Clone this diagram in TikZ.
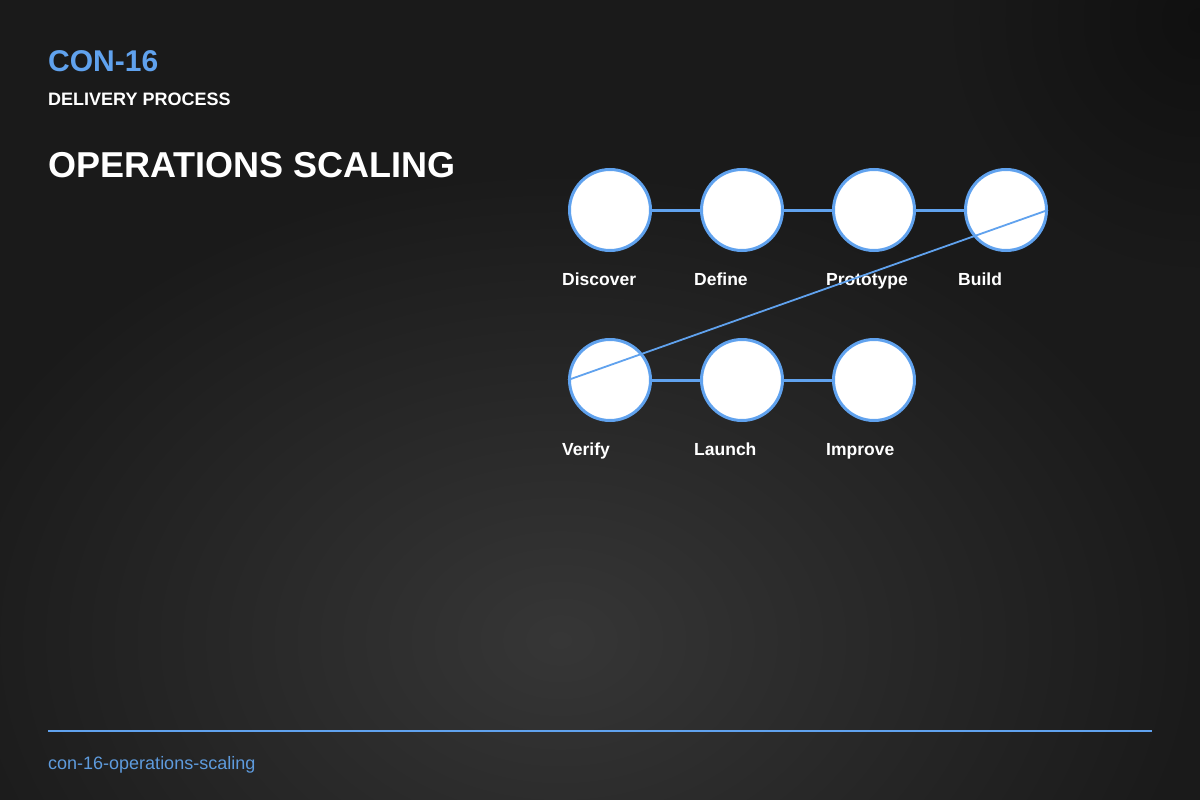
\documentclass[tikz,border=0pt]{standalone}
\usepackage{fontspec}
\setmainfont{Liberation Sans}
\definecolor{bg}{HTML}{1A1A1A}
\definecolor{glow}{HTML}{363636}
\definecolor{deep}{HTML}{101010}
\definecolor{accent}{HTML}{60A2EE}
\definecolor{foot}{HTML}{5E9BDD}
\begin{document}
\begin{tikzpicture}[x=1pt,y=-1pt,
  stepnode/.style={circle,fill=white,draw=accent,line width=3pt,minimum size=81pt,inner sep=0pt},
  steplabel/.style={anchor=base west,inner sep=0pt,text=white,font=\fontsize{17.5}{20}\selectfont\bfseries},
  link/.style={draw=accent,line width=3pt},
  jump/.style={draw=accent,line width=1.8pt}]
\useasboundingbox (0,0) rectangle (1200,800);
% background
\fill[bg] (0,0) rectangle (1200,800);
\shade[inner color=glow,outer color=bg] (560,640) ellipse (640 and 470);
\shade[inner color=deep,outer color=bg] (1200,20) circle (260);
% titles
\node[anchor=base west,inner sep=0pt,text=accent,font=\fontsize{30}{34}\selectfont\bfseries] (code) at (48,72) {CON-16};
\node[anchor=base west,inner sep=0pt,text=white,font=\fontsize{18}{20}\selectfont\bfseries] (sub) at (48,105) {DELIVERY PROCESS};
\node[anchor=base west,inner sep=0pt,text=white,font=\fontsize{36}{40}\selectfont\bfseries] (title) at (48,177) {OPERATIONS SCALING};
% steps
\node[stepnode] (s1) at (610,210) {};
\node[stepnode] (s2) at (742,210) {};
\node[stepnode] (s3) at (874,210) {};
\node[stepnode] (s4) at (1006,210) {};
\node[stepnode] (s5) at (610,380) {};
\node[stepnode] (s6) at (742,380) {};
\node[stepnode] (s7) at (874,380) {};
\node[steplabel] (l1) at (562,285) {Discover};
\node[steplabel] (l2) at (694,285) {Define};
\node[steplabel] (l3) at (826,285) {Prototype};
\node[steplabel] (l4) at (958,285) {Build};
\node[steplabel] (l5) at (562,455) {Verify};
\node[steplabel] (l6) at (694,455) {Launch};
\node[steplabel] (l7) at (826,455) {Improve};
\draw[link] (s1) -- (s2);
\draw[link] (s2) -- (s3);
\draw[link] (s3) -- (s4);
\draw[link] (s5) -- (s6);
\draw[link] (s6) -- (s7);
\draw[jump] (s4.east) -- (s5.west);
% footer
\coordinate (fl) at (48,731);
\coordinate (fr) at (1152,731);
\draw[accent,line width=2pt] (fl) -- (fr);
\node[anchor=base west,inner sep=0pt,text=foot,font=\fontsize{18}{20}\selectfont] (slug) at (48,769) {con-16-operations-scaling};
\end{tikzpicture}
\end{document}
